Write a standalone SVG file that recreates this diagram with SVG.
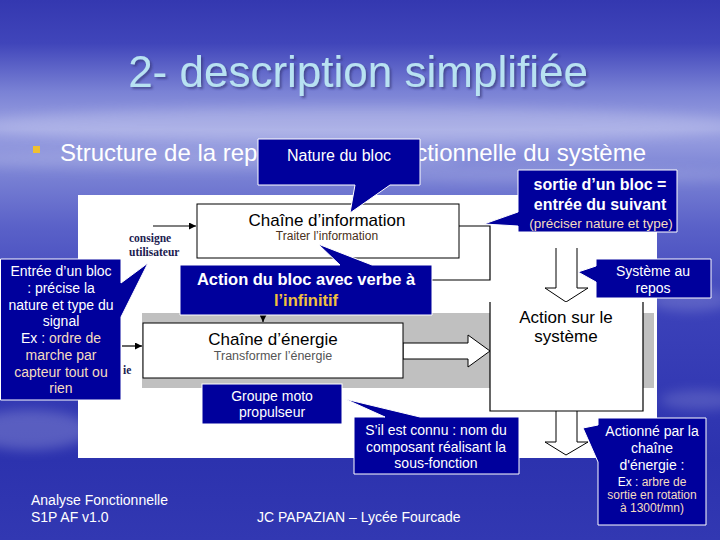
<svg xmlns="http://www.w3.org/2000/svg" width="720" height="540" viewBox="0 0 720 540">
<defs>
<linearGradient id="bg" x1="0" y1="0" x2="0" y2="1">
<stop offset="0" stop-color="#3438b0"/>
<stop offset="0.08" stop-color="#4045ba"/>
<stop offset="0.17" stop-color="#7a82d5"/>
<stop offset="0.24" stop-color="#9ca2e2"/>
<stop offset="0.31" stop-color="#7e86d6"/>
<stop offset="0.42" stop-color="#5a61c8"/>
<stop offset="0.58" stop-color="#3b41b9"/>
<stop offset="0.85" stop-color="#2c32ae"/>
<stop offset="1" stop-color="#3238b2"/>
</linearGradient>
<filter id="blur" x="-20%" y="-50%" width="140%" height="200%"><feGaussianBlur stdDeviation="6"/></filter>
<filter id="shadow" x="-5%" y="-20%" width="110%" height="150%"><feDropShadow dx="2" dy="2" stdDeviation="1" flood-color="#303070" flood-opacity="0.6"/></filter>
<marker id="ah" viewBox="0 0 10 10" refX="10" refY="5" markerWidth="7" markerHeight="7" orient="auto" markerUnits="userSpaceOnUse">
<path d="M0,0 L10,5 L0,10 Z" fill="#000"/>
</marker>
<style>
.call{fill:#00009c;stroke:#ffffff;stroke-width:1}
.ct{font-family:"Liberation Sans",Arial,sans-serif;fill:#ffffff;text-anchor:middle}
.pe{fill:#f4dcc0}
.box{fill:#ffffff;stroke:#000;stroke-width:1}
.hollow{fill:#ffffff;stroke:#000;stroke-width:1}
.ln{fill:none;stroke:#000;stroke-width:1.2}
.bt{font-family:"Liberation Sans",Arial,sans-serif;fill:#000;text-anchor:middle}
.ser{font-family:"Liberation Serif","Times New Roman",serif;font-weight:bold;fill:#202050;font-size:11.5px}
.wt{font-family:"Liberation Sans",Arial,sans-serif;fill:#ffffff}
</style>
</defs>

<g id="background">
<rect width="720" height="540" fill="url(#bg)"/>
<ellipse cx="360" cy="125" rx="380" ry="18" fill="#ffffff" opacity="0.18" filter="url(#blur)"/>
<ellipse cx="200" cy="160" rx="260" ry="10" fill="#ffffff" opacity="0.15" filter="url(#blur)"/>
<ellipse cx="560" cy="175" rx="220" ry="8" fill="#ffffff" opacity="0.12" filter="url(#blur)"/>
<ellipse cx="30" cy="430" rx="60" ry="20" fill="#ffffff" opacity="0.2" filter="url(#blur)"/>
<ellipse cx="690" cy="300" rx="40" ry="12" fill="#ffffff" opacity="0.15" filter="url(#blur)"/>
<ellipse cx="700" cy="400" rx="40" ry="10" fill="#ffffff" opacity="0.15" filter="url(#blur)"/>
</g>

<g id="title">
<text x="358" y="87" font-family="'Liberation Sans',Arial,sans-serif" font-size="44" fill="#b8e2f2" text-anchor="middle" filter="url(#shadow)">2- description simplifiée</text>
</g>

<g id="bullet">
<rect x="33" y="146" width="7" height="7" fill="#f0c030"/>
<text class="wt" x="60" y="161" font-size="24">Structure de la rep</text>
<text class="wt" x="646" y="161" font-size="24" text-anchor="end">ctionnelle du système</text>
</g>

<g id="diagram-area">
<rect x="78" y="195" width="579" height="263" fill="#ffffff"/>
<rect x="142" y="313" width="512" height="75" fill="#c0c0c0"/>
</g>

<g id="connectors">
<path class="ln" d="M153,226 H196" marker-end="url(#ah)"/>
<path class="ln" d="M122,346 H142" marker-end="url(#ah)"/>
<path class="ln" d="M459,226 H490 V280 H263 V322" marker-end="url(#ah)"/>
<path class="hollow" d="M403,343 H468 V335 L490,351 L468,367 V359 H403 Z"/>
<path class="hollow" d="M556,248 V288 H545 L566,302 L588,288 H577 V248"/>
<path class="hollow" d="M556,411 V442 H545 L566,455 L588,442 H577 V411"/>
</g>

<g id="consigne">
<text class="ser" x="129" y="242">consigne</text>
<text class="ser" x="129" y="256">utilisateur</text>
</g>
<g id="energie-label">
<text class="ser" x="123" y="374">ie</text>
</g>

<g id="chaine-information">
<rect class="box" x="197" y="204" width="262" height="54"/>
<text class="bt" x="327" y="226" font-size="17">Chaîne d’information</text>
<text class="bt" x="327" y="240" font-size="12" style="fill:#4a3020">Traiter l’information</text>
</g>

<g id="chaine-energie">
<rect class="box" x="143" y="323" width="260" height="55"/>
<text class="bt" x="273" y="345" font-size="17">Chaîne d’énergie</text>
<text class="bt" x="273" y="360" font-size="12.5" style="fill:#555555">Transformer l’énergie</text>
</g>

<g id="action-systeme">
<path d="M490,302 V411 H643 V302" fill="#ffffff" stroke="#000" stroke-width="1.2"/>
<text class="bt" x="566" y="323" font-size="17">Action sur le</text>
<text class="bt" x="566" y="342" font-size="17">système</text>
</g>

<g id="callout-nature">
<path class="call" d="M258,139 H420 V185 H390 L350,213 L355,185 H258 Z"/>
<text class="ct" x="339" y="161" font-size="16">Nature du bloc</text>
</g>

<g id="callout-sortie">
<path class="call" d="M518,170 H677 V232 H518 V226 L484,224 L518,212 Z"/>
<text class="ct" x="600" y="190" font-size="16" font-weight="bold">sortie d’un bloc =</text>
<text class="ct" x="600" y="210" font-size="16" font-weight="bold">entrée du suivant</text>
<text class="ct pe" x="601" y="228" font-size="13.5">(préciser nature et type)</text>
</g>

<g id="callout-entree">
<path class="call" d="M0.5,259 H121 V283 L148,263 L121,317 V400 H0.5 Z"/>
<text class="ct" x="61" y="276" font-size="14">Entrée d’un bloc</text>
<text class="ct" x="61" y="293" font-size="14">:  précise la</text>
<text class="ct" x="61" y="310" font-size="14">nature et type du</text>
<text class="ct" x="61" y="326" font-size="14">signal</text>
<text class="ct" x="61" y="343" font-size="14">Ex : <tspan class="pe">ordre de</tspan></text>
<text class="ct pe" x="61" y="360" font-size="14">marche par</text>
<text class="ct pe" x="61" y="377" font-size="14">capteur tout ou</text>
<text class="ct pe" x="61" y="393" font-size="14">rien</text>
</g>

<g id="callout-action">
<path class="call" d="M180,265 H340 L318,244 L372,265 H432 V315 H180 Z"/>
<text class="ct" x="306" y="285" font-size="16.5" font-weight="bold">Action du bloc avec verbe à</text>
<text class="ct" x="306" y="306" font-size="16.5" font-weight="bold" style="fill:#f0c040">l’infinitif</text>
</g>

<g id="callout-repos">
<path class="call" d="M596,259 H711 V298 H596 V282 L578,272 L596,266 Z"/>
<text class="ct" x="653" y="276" font-size="14">Système au</text>
<text class="ct" x="653" y="293" font-size="14">repos</text>
</g>

<g id="callout-groupe">
<rect class="call" x="202" y="384" width="140" height="40"/>
<text class="ct" x="272" y="401" font-size="14">Groupe moto</text>
<text class="ct" x="272" y="417" font-size="14">propulseur</text>
</g>

<g id="callout-sil">
<path class="call" d="M354,417 H385 L345,399 L420,417 H519 V474 H354 Z"/>
<text class="ct" x="436" y="435" font-size="14">S’il est connu : nom du</text>
<text class="ct" x="436" y="452" font-size="14">composant réalisant la</text>
<text class="ct" x="436" y="468" font-size="14">sous-fonction</text>
</g>

<g id="callout-actionne">
<path class="call" d="M598,418 H706 V525 H598 V462 L583,428 L598,425 Z"/>
<text class="ct" x="652" y="436" font-size="14">Actionné par la</text>
<text class="ct" x="652" y="453" font-size="14">chaîne</text>
<text class="ct" x="652" y="470" font-size="14">d'énergie :</text>
<text class="ct" x="652" y="486" font-size="12">Ex : <tspan class="pe">arbre de</tspan></text>
<text class="ct pe" x="652" y="499" font-size="12">sortie en rotation</text>
<text class="ct pe" x="652" y="512" font-size="12">à 1300t/mn)</text>
</g>

<g id="footer">
<text class="wt" x="31" y="505" font-size="14">Analyse Fonctionnelle</text>
<text class="wt" x="31" y="522" font-size="14">S1P AF v1.0</text>
<text class="wt" x="257" y="522" font-size="14">JC PAPAZIAN – Lycée Fourcade</text>
</g>
</svg>
